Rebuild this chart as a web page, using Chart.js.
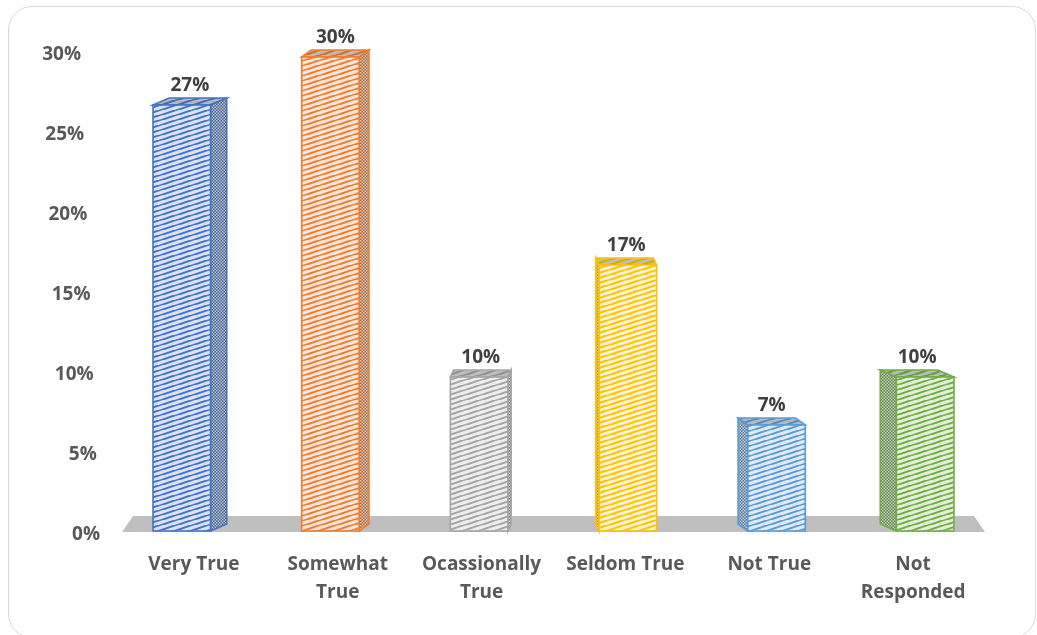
<!DOCTYPE html>
<html>
<head>
<meta charset="utf-8">
<script src="https://cdn.jsdelivr.net/npm/chart.js@4.4.1/dist/chart.umd.min.js"></script>
<style>
  html, body { margin: 0; padding: 0; background: #fff; }
  #wrap { position: relative; width: 1037px; height: 635px; overflow: hidden; }
  #frame {
    position: absolute; left: 8px; top: 6px; width: 1028px; height: 632px;
    border: 1.5px solid #d9d9d9; border-radius: 24px; box-sizing: border-box;
  }
  #responses { position: absolute; left: 0; top: 0; }
</style>
</head>
<body>
<div id="wrap">
  <div id="frame"></div>
  <canvas id="responses" width="1037" height="635"></canvas>
</div>
<script>
// Survey responses, share of respondents per answer
const categories = [
    ['Very True'],
    ['Somewhat', 'True'],
    ['Ocassionally', 'True'],
    ['Seldom True'],
    ['Not True'],
    ['Not', 'Responded'],
];
const shares = [27, 30, 10, 17, 7, 10];
const yTicks = [0, 5, 10, 15, 20, 25, 30];

// face colours: outline + light fill for each bar
const edgeColors = ['#4472c4', '#ed7d31', '#a5a5a5', '#ffc000', '#5b9bd5', '#70ad47'];
const lightColors = ['#dae3f3', '#fbe5d6', '#ededed', '#fff2cc', '#deebf7', '#e2f0d9'];

const FONT = '"Open Sans"';

function mix(a, b, t) {
    const pa = [1, 3, 5].map(i => parseInt(a.substr(i, 2), 16));
    const pb = [1, 3, 5].map(i => parseInt(b.substr(i, 2), 16));
    return 'rgb(' + pa.map((v, i) => Math.round(v + (pb[i] - v) * t)).join(',') + ')';
}

// wide upward diagonal hatch
function stripes(ctx, bg, fg) {
    const w = 16, h = 5.5;
    const c = document.createElement('canvas');
    c.width = w; c.height = h;
    const g = c.getContext('2d');
    g.fillStyle = bg;
    g.fillRect(0, 0, w, h);
    g.strokeStyle = fg;
    g.lineWidth = 2;
    for (let k = -1; k <= 1; k++) {
        g.beginPath();
        g.moveTo(-1, h + k * h + h / w);
        g.lineTo(w + 1, k * h - h / w);
        g.stroke();
    }
    return ctx.createPattern(c, 'repeat');
}

function dots(ctx, bg, fg) {
    const c = document.createElement('canvas');
    c.width = 3; c.height = 3;
    const g = c.getContext('2d');
    g.fillStyle = bg;
    g.fillRect(0, 0, 3, 3);
    g.fillStyle = fg;
    g.fillRect(0, 0, 1.5, 1.5);
    g.fillRect(1.5, 1.5, 1.5, 1.5);
    return ctx.createPattern(c, 'repeat');
}

function poly(ctx, pts, fill, stroke) {
    ctx.beginPath();
    ctx.moveTo(pts[0][0], pts[0][1]);
    for (let i = 1; i < pts.length; i++) ctx.lineTo(pts[i][0], pts[i][1]);
    ctx.closePath();
    ctx.fillStyle = fill;
    ctx.fill();
    ctx.strokeStyle = stroke;
    ctx.lineWidth = 1.6;
    ctx.stroke();
}

// floor, 3d boxes, value labels and slanted y labels
const box3d = {
    id: 'box3d',
    beforeDatasetsDraw(chart) {
        const { ctx, chartArea, scales } = chart;
        const yb = scales.y.getPixelForValue(0) - 1;
        ctx.save();
        ctx.beginPath();
        ctx.moveTo(chartArea.left, yb);
        ctx.lineTo(chartArea.left + 11, yb - 16);
        ctx.lineTo(chartArea.right - 11, yb - 16);
        ctx.lineTo(chartArea.right, yb);
        ctx.closePath();
        ctx.fillStyle = '#bfbfbf';
        ctx.fill();
        ctx.restore();
    },
    afterDatasetsDraw(chart) {
        const { ctx, chartArea } = chart;
        const meta = chart.getDatasetMeta(0);
        const vp = (chartArea.left + chartArea.right) / 2;
        const dy = 7;
        ctx.save();
        meta.data.forEach((bar, i) => {
            const edge = edgeColors[i];
            const light = lightColors[i];
            const w = bar.width;
            const dx = (vp - bar.x) * 0.045;
            const x0 = bar.x - w / 2 - dx * 0.75;
            const x1 = x0 + w;
            const yTop = bar.y + 4;
            const yBase = bar.base - 2;

            const sideFill = dots(ctx, mix(edge, '#404040', 0.35), mix(light, '#7f7f7f', 0.3));
            const topFill = stripes(ctx, mix(light, '#7f7f7f', 0.45), mix(edge, '#404040', 0.2));
            const frontFill = stripes(ctx, light, edge);

            if (dx > 0) {
                poly(ctx, [[x1, yTop], [x1 + dx, yTop - dy], [x1 + dx, yBase - dy], [x1, yBase]], sideFill, edge);
            } else {
                poly(ctx, [[x0, yTop], [x0 + dx, yTop - dy], [x0 + dx, yBase - dy], [x0, yBase]], sideFill, edge);
            }
            poly(ctx, [[x0, yTop], [x1, yTop], [x1 + dx, yTop - dy], [x0 + dx, yTop - dy]], topFill, edge);
            poly(ctx, [[x0, yTop], [x1, yTop], [x1, yBase], [x0, yBase]], frontFill, edge);

            ctx.fillStyle = '#404040';
            ctx.font = 'bold 19px ' + FONT;
            ctx.textAlign = 'center';
            ctx.textBaseline = 'alphabetic';
            ctx.fillText(shares[i] + '%', (x0 + x1) / 2 + dx / 2, yTop - dy - 7);
        });
        ctx.restore();
    },
    afterDraw(chart) {
        const { ctx, chartArea, scales } = chart;
        ctx.save();
        ctx.fillStyle = '#595959';
        ctx.font = 'bold 19px ' + FONT;
        ctx.textAlign = 'right';
        ctx.textBaseline = 'middle';
        yTicks.forEach(v => {
            const x = chartArea.left - 22 - v * (19 / 30);
            ctx.fillText(v + '%', x, scales.y.getPixelForValue(v) + 2);
        });
        ctx.restore();
    }
};

const responseData = {
    labels: categories,
    datasets: [{
        data: shares,
        backgroundColor: 'rgba(0,0,0,0)',
        borderWidth: 0,
        barPercentage: 0.4,
        categoryPercentage: 1,
    }]
};

const responseConfig = {
    type: 'bar',
    data: responseData,
    options: {
        responsive: false,
        animation: false,
        devicePixelRatio: 1,
        layout: { padding: { left: 0, right: 52, top: 53, bottom: 0 } },
        plugins: {
            legend: { display: false },
            tooltip: { enabled: false },
        },
        scales: {
            x: {
                grid: { display: false, drawTicks: false },
                border: { display: false },
                ticks: {
                    color: '#595959',
                    font: { family: FONT, size: 19, weight: 'bold', lineHeight: 1.45 },
                    padding: 18,
                    maxRotation: 0,
                    autoSkip: false,
                },
                afterFit: s => { s.height = 102; },
            },
            y: {
                min: 0,
                max: 30,
                grid: { display: false, drawTicks: false },
                border: { display: false },
                ticks: { display: false, stepSize: 5 },
                afterFit: s => { s.width = 122; },
            }
        }
    },
    plugins: [box3d]
};

const responseChart = new Chart(
    document.getElementById('responses'),
    responseConfig
);
</script>
</body>
</html>
